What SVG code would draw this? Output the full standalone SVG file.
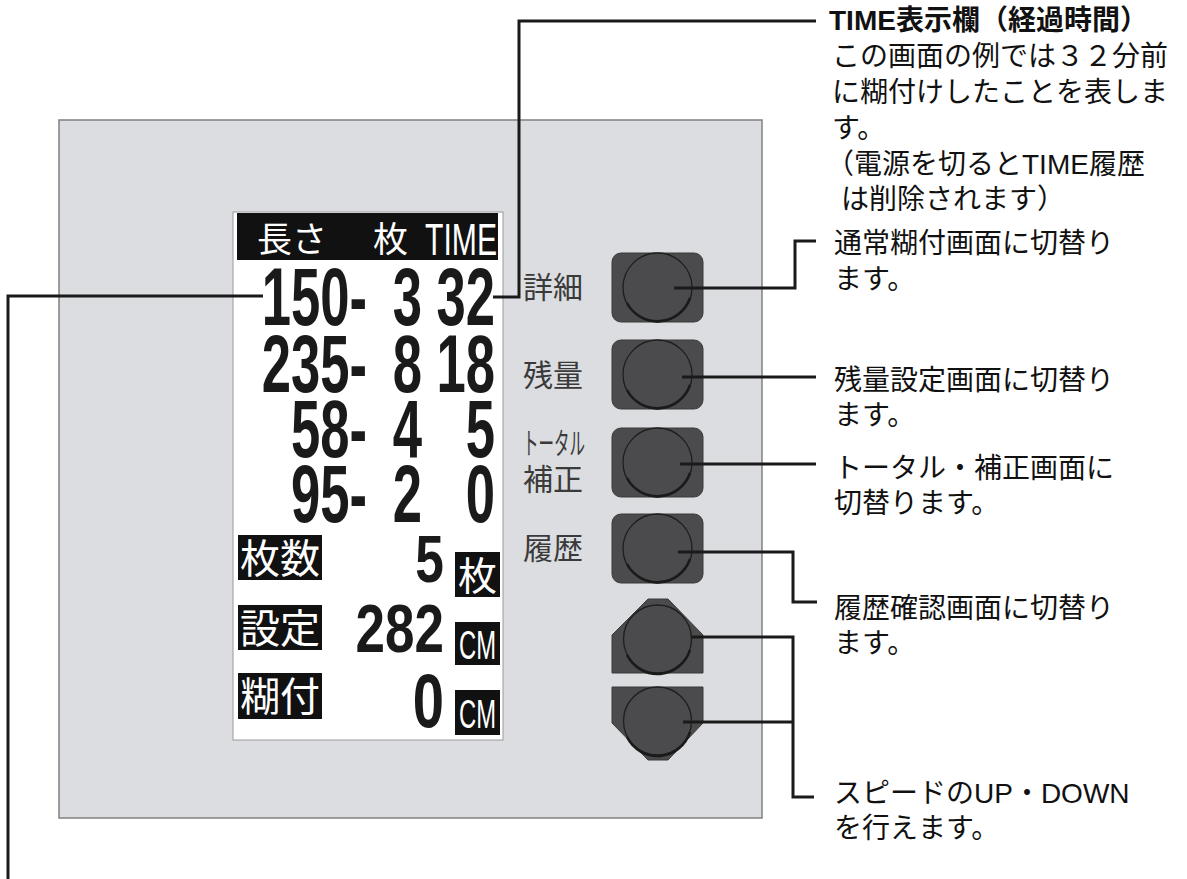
<svg xmlns="http://www.w3.org/2000/svg" width="1187" height="879" viewBox="0 0 1187 879">
<style>
.jp{font-family:"Liberation Sans","Noto Sans CJK JP",sans-serif;fill:#111;font-size:28px}
.lbl{font-family:"Liberation Sans","Noto Sans CJK JP",sans-serif;fill:#3a3a3a;font-size:30px}
.dg{font-family:"Liberation Sans",Arial,sans-serif;font-weight:bold;fill:#1a1a1a}
.pix{font-family:"Noto Sans CJK JP",sans-serif;fill:#fff}
.pixl{font-family:"Liberation Sans",sans-serif;fill:#fff}
.btn{fill:#4b4b4d;stroke:#3a3a3a;stroke-width:1}
.knob{fill:#4b4b4d;stroke:#1e1e1e;stroke-width:1.3}
.shade{fill:none;stroke:#1a1a1a;stroke-width:2.5}
.box{fill:#111}
.con{fill:none;stroke:#1a1a1a;stroke-width:3}
</style>
<rect width="1187" height="879" fill="#fff"/>
<g id="panel">
<rect x="59" y="120" width="703" height="698" fill="#dcdde0" stroke="#808080" stroke-width="1.5"/>
</g>
<g id="lcd">
<rect x="233" y="212" width="270" height="528" fill="#fff" stroke="#9a9a9a" stroke-width="1"/>
<rect class="box" x="237" y="213" width="261" height="47"/>
<text class="pix" x="257" y="252" font-size="35">長さ</text>
<text class="pix" x="373" y="252" font-size="35">枚</text>
<text class="pixl" x="425" y="255" font-size="44" textLength="72" lengthAdjust="spacingAndGlyphs">TIME</text>
<g class="dg" font-size="81" text-anchor="end">
<text transform="translate(367,325) scale(0.65,1)">150-</text>
<text transform="translate(422,325) scale(0.65,1)">3</text>
<text transform="translate(495,325) scale(0.65,1)">32</text>
<text transform="translate(367,392) scale(0.65,1)">235-</text>
<text transform="translate(422,392) scale(0.65,1)">8</text>
<text transform="translate(495,392) scale(0.65,1)">18</text>
<text transform="translate(367,457) scale(0.65,1)">58-</text>
<text transform="translate(422,457) scale(0.65,1)">4</text>
<text transform="translate(495,457) scale(0.65,1)">5</text>
<text transform="translate(367,522) scale(0.65,1)">95-</text>
<text transform="translate(422,522) scale(0.65,1)">2</text>
<text transform="translate(495,522) scale(0.65,1)">0</text>
</g>
<rect class="box" x="238" y="535" width="84" height="45"/>
<text class="pix" x="240" y="573" font-size="40">枚数</text>
<rect class="box" x="238" y="605" width="84" height="45"/>
<text class="pix" x="240" y="643" font-size="40">設定</text>
<rect class="box" x="238" y="673" width="84" height="46"/>
<text class="pix" x="240" y="711" font-size="40">糊付</text>
<g class="dg" text-anchor="end">
<text transform="translate(444,582) scale(0.78,1)" font-size="66">5</text>
<text transform="translate(444,652) scale(0.78,1)" font-size="68">282</text>
<text transform="translate(444,727) scale(0.74,1)" font-size="76">0</text>
</g>
<rect class="box" x="455" y="552" width="45" height="45"/>
<text class="pix" x="458" y="590" font-size="39">枚</text>
<rect class="box" x="455" y="622" width="45" height="43"/>
<text class="pixl" x="459" y="659" font-size="40" textLength="37" lengthAdjust="spacingAndGlyphs">CM</text>
<rect class="box" x="455" y="690" width="45" height="45"/>
<text class="pixl" x="459" y="728" font-size="40" textLength="37" lengthAdjust="spacingAndGlyphs">CM</text>
</g>
<g id="btn-detail">
<rect class="btn" x="612" y="253" width="91" height="69" rx="9"/>
<circle class="knob" cx="657.5" cy="287.5" r="34.5"/>
<path class="shade" d="M627,303 A34.5,34.5 0 0 0 690,298"/>
<text class="lbl" x="523" y="298">詳細</text>
</g>
<g id="btn-remain">
<rect class="btn" x="612" y="340" width="91" height="69" rx="9"/>
<circle class="knob" cx="657.5" cy="374.5" r="34.5"/>
<path class="shade" d="M627,390 A34.5,34.5 0 0 0 690,385"/>
<text class="lbl" x="523" y="386">残量</text>
</g>
<g id="btn-total">
<rect class="btn" x="612" y="428" width="91" height="69" rx="9"/>
<circle class="knob" cx="657.5" cy="462.5" r="34.5"/>
<path class="shade" d="M627,478 A34.5,34.5 0 0 0 690,473"/>
<text class="lbl" x="523" y="454" font-size="27" textLength="62" lengthAdjust="spacingAndGlyphs">トータル</text>
<text class="lbl" x="523" y="490">補正</text>
</g>
<g id="btn-history">
<rect class="btn" x="612" y="514" width="91" height="69" rx="9"/>
<circle class="knob" cx="657.5" cy="548.5" r="34.5"/>
<path class="shade" d="M627,564 A34.5,34.5 0 0 0 690,559"/>
<text class="lbl" x="523" y="559">履歴</text>
</g>
<g id="btn-up">
<polygon class="btn" points="648,599 668,599 703,635 703,673 612,673 612,635"/>
<circle class="knob" cx="657.5" cy="639" r="34"/>
<path class="shade" d="M627,655 A34,34 0 0 0 690,650"/>
</g>
<g id="btn-down">
<polygon class="btn" points="612,687 703,687 703,723 668,760 648,760 612,723"/>
<circle class="knob" cx="657.5" cy="721" r="34"/>
<path class="shade" d="M627,737 A34,34 0 0 0 690,732"/>
</g>
<g id="note-time">
<text class="jp" x="829" y="30" font-size="28.5" font-weight="bold">TIME表示欄（経過時間）</text>
<text class="jp" x="832" y="66" font-size="28.5">この画面の例では３２分前</text>
<text class="jp" x="832" y="102" font-size="28.5">に糊付けしたことを表しま</text>
<text class="jp" x="832" y="138" font-size="28.5">す。</text>
<text class="jp" x="826" y="174" font-size="28.5">（電源を切るとTIME履歴</text>
<text class="jp" x="841" y="209" font-size="28.5">は削除されます）</text>
</g>
<g id="note-detail">
<text class="jp" x="834" y="253" font-size="27.5">通常糊付画面に切替り</text>
<text class="jp" x="834" y="289" font-size="27.5">ます。</text>
</g>
<g id="note-remain">
<text class="jp" x="834" y="390" font-size="27.5">残量設定画面に切替り</text>
<text class="jp" x="834" y="425" font-size="27.5">ます。</text>
</g>
<g id="note-total">
<text class="jp" x="834" y="478" font-size="27.5">トータル・補正画面に</text>
<text class="jp" x="834" y="513" font-size="27.5">切替ります。</text>
</g>
<g id="note-history">
<text class="jp" x="834" y="618" font-size="27.5">履歴確認画面に切替り</text>
<text class="jp" x="834" y="653" font-size="27.5">ます。</text>
</g>
<g id="note-speed">
<text class="jp" x="834" y="803" font-size="27.5">スピードのUP・DOWN</text>
<text class="jp" x="834" y="838" font-size="27.5">を行えます。</text>
</g>
<g id="connectors">
<path class="con" d="M493,297 H519 V21 H816"/>
<path class="con" d="M263,296 H8 V879"/>
<path class="con" d="M674,288 H795 V241 H816"/>
<path class="con" d="M682,377 H816"/>
<path class="con" d="M680,464 H816"/>
<path class="con" d="M678,552 H793 V602 H817"/>
<path class="con" d="M692,637 H793 V797 H814"/>
<path class="con" d="M683,722 H793"/>
</g>
</svg>
